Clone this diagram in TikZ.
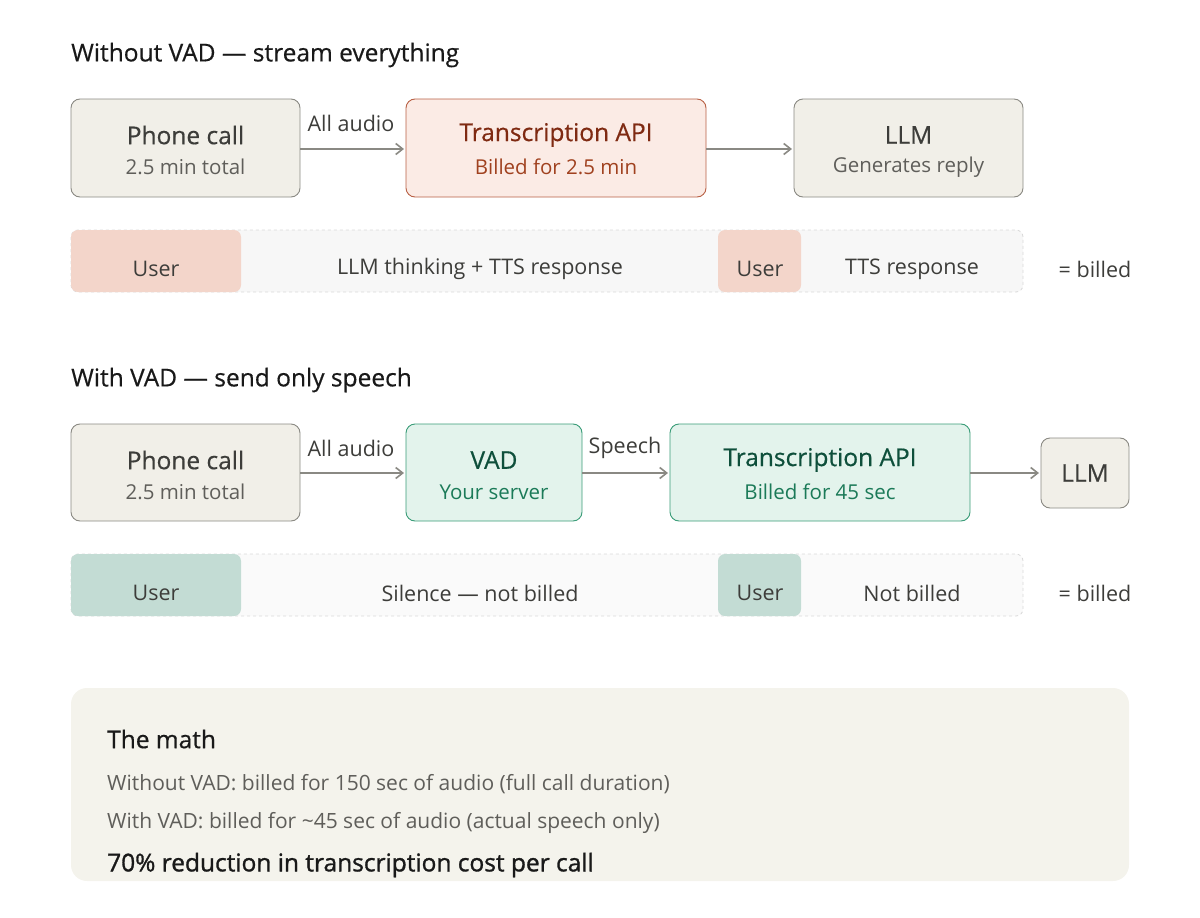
\documentclass[tikz,border=0pt]{standalone}
\usetikzlibrary{arrows.meta}
\usepackage{fontspec}
\setmainfont{Open Sans}
\newfontfamily\medf[FakeBold=0.5]{Open Sans}
\definecolor{gfill}{HTML}{F1EFE8}\definecolor{gdraw}{HTML}{8A8983}
\definecolor{rfill}{HTML}{FBEBE5}\definecolor{rdraw}{HTML}{B86045}
\definecolor{rtxt}{HTML}{7F2A12}\definecolor{rsub}{HTML}{A0411F}
\definecolor{tfill}{HTML}{E3F3EC}\definecolor{tdraw}{HTML}{3A9C78}
\definecolor{ttxt}{HTML}{0E4F3B}\definecolor{tsub}{HTML}{1B7A58}
\definecolor{txt}{HTML}{3D3D3A}\definecolor{sub}{HTML}{5F5E5A}
\definecolor{useR}{HTML}{F3D5CA}\definecolor{useG}{HTML}{C3DCD4}
\definecolor{mathbg}{HTML}{F4F3EC}
\begin{document}
\begin{tikzpicture}[x=1pt,y=-1pt,
 box/.style={draw=gdraw,fill=gfill,rounded corners=9pt,line width=0.9pt},
 arr/.style={-{Straight Barb[length=7pt,width=11pt]},draw=gdraw,line width=1.6pt},
 lbl/.style={font=\fontsize{21.5}{24}\selectfont,text=txt},
 hd/.style={font=\medf\fontsize{24.5}{28}\selectfont},
 sb/.style={font=\fontsize{20.5}{24}\selectfont},
 ttl/.style={anchor=west,inner sep=0pt,font=\medf\fontsize{24.5}{28}\selectfont,text=black!90},
 bar/.style={draw=black!15,dashed,fill=black!3,rounded corners=7pt,line width=0.8pt},
]
\path[use as bounding box] (0,0) rectangle (1200,918);
\node[ttl] (t1) at (71,55) {Without VAD — stream everything};
% row 1
\draw[box] (71,99) rectangle (300,197);
\node[hd,text=txt] (p1) at (185.5,135) {Phone call};
\node[sb,text=sub] (p1s) at (185.5,167) {2.5 min total};
\draw[box,draw=rdraw,fill=rfill] (406,99) rectangle (706,197);
\node[hd,text=rtxt] (tr1) at (556,135) {Transcription API};
\node[sb,text=rsub] (tr1s) at (556,167) {Billed for 2.5 min};
\draw[box] (794,99) rectangle (1023,197);
\node[hd,text=txt] (l1) at (908.5,135) {LLM};
\node[sb,text=sub] (l1s) at (908.5,167) {Generates reply};
\coordinate (a1) at (300,149);\coordinate (b1) at (404,149);
\coordinate (a2) at (706,149);\coordinate (b2) at (792,149);
\draw[arr] (a1) -- (b1);\draw[arr] (a2) -- (b2);
\node[lbl] (al1) at (351,123) {All audio};
% bar 1
\draw[bar] (71,230) rectangle (1023,292);
\fill[useR,rounded corners=7pt] (71,230) rectangle (241,292);
\fill[useR,rounded corners=7pt] (718,230) rectangle (801,292);
\node[lbl] (u1) at (156,269) {User};
\node[lbl] (m1) at (480,269) {LLM thinking + TTS response};
\node[lbl] (u2) at (760,269) {User};
\node[lbl] (m2) at (912,269) {TTS response};
\node[lbl] (e1) at (1095,269) {= billed};
% second
\node[ttl] (t2) at (71,380) {With VAD — send only speech};
\draw[box] (71,424) rectangle (300,521);
\node[hd,text=txt] (p2) at (185.5,460) {Phone call};
\node[sb,text=sub] (p2s) at (185.5,492) {2.5 min total};
\draw[box,draw=tdraw,fill=tfill] (406,424) rectangle (582,521);
\node[hd,text=ttxt] (v) at (494,460) {VAD};
\node[sb,text=tsub] (vs) at (494,492) {Your server};
\draw[box,draw=tdraw,fill=tfill] (670,424) rectangle (970,521);
\node[hd,text=ttxt] (tr2) at (820,460) {Transcription API};
\node[sb,text=tsub] (tr2s) at (820,492) {Billed for 45 sec};
\draw[box] (1041,438) rectangle (1129,508);
\node[hd,text=txt] (l2) at (1085,473) {LLM};
\coordinate (c1) at (300,473);\coordinate (d1) at (404,473);
\coordinate (c2) at (582,473);\coordinate (d2) at (668,473);
\coordinate (c3) at (970,473);\coordinate (d3) at (1039,473);
\draw[arr] (c1) -- (d1);\draw[arr] (c2) -- (d2);\draw[arr] (c3) -- (d3);
\node[lbl] (al2) at (351,448) {All audio};
\node[lbl] (sp) at (625,448) {Speech};
\draw[bar,fill=black!2] (71,554) rectangle (1023,616);
\fill[useG,rounded corners=7pt] (71,554) rectangle (241,616);
\fill[useG,rounded corners=7pt] (718,554) rectangle (801,616);
\node[lbl] (u3) at (156,593) {User};
\node[lbl] (m3) at (480,593) {Silence — not billed};
\node[lbl] (u4) at (760,593) {User};
\node[lbl] (m4) at (912,593) {Not billed};
\node[lbl] (e2) at (1095,593) {= billed};
% math
\fill[mathbg,rounded corners=16pt] (71,688) rectangle (1129,881);
\node[ttl] (mt) at (107,739) {The math};
\node[anchor=west,inner sep=0pt,font=\fontsize{21}{24}\selectfont,text=sub] (ml1) at (107,784) {Without VAD: billed for 150 sec of audio (full call duration)};
\node[anchor=west,inner sep=0pt,font=\fontsize{21}{24}\selectfont,text=sub] (ml2) at (107,823) {With VAD: billed for \textasciitilde45 sec of audio (actual speech only)};
\node[anchor=west,inner sep=0pt,font=\medf\fontsize{24.5}{28}\selectfont\addfontfeature{FakeBold=1.2},text=black!90] (ml3) at (107,865) {70\% reduction in transcription cost per call};
\end{tikzpicture}
\end{document}
